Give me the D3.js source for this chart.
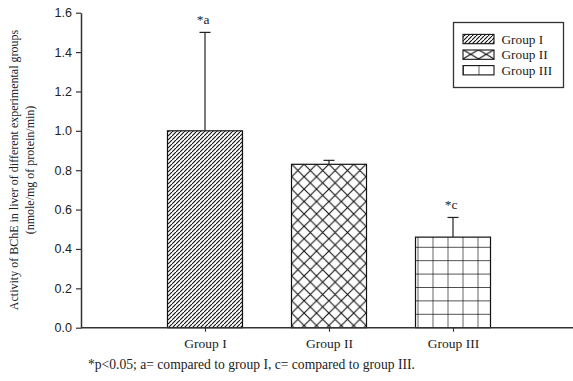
<!DOCTYPE html>
<html>
<head>
<meta charset="utf-8">
<script src="https://cdn.jsdelivr.net/npm/d3@7"></script>
<style>
  html, body { margin: 0; padding: 0; background: #fff; }
  svg { display: block; }
</style>
</head>
<body>
<svg id="chart" width="573" height="381"></svg>
<script>
// BChE activity in liver by experimental group
const groups = ["Group I", "Group II", "Group III"];
const means = [1.0, 0.83, 0.46];
const errors = [0.5, 0.02, 0.10];
const marks = ["*a", "", "*c"];
const patternIds = ["hatch", "cross", "grid"];
const yTicks = [0.0, 0.2, 0.4, 0.6, 0.8, 1.0, 1.2, 1.4, 1.6];

const svg = d3.select("#chart");
const serif = "'Liberation Serif', 'Times New Roman', serif";
const sans = "'Liberation Sans', Arial, sans-serif";
const axisColor = "#333";

const x0 = 81, x1 = 573, yTop = 12.7, yBottom = 327.7;
const y = d3.scaleLinear().domain([0, 1.6]).range([yBottom, yTop]);
const x = d3.scalePoint().domain(groups).range([205, 453]);
const barW = 75;

// Fill patterns
const defs = svg.append("defs");
function hatch(id, size) {
  const p = defs.append("pattern").attr("id", id).attr("patternUnits", "userSpaceOnUse")
    .attr("width", size).attr("height", size);
  p.append("rect").attr("width", size).attr("height", size).attr("fill", "#fff");
  p.append("path").attr("d", `M0,${size} L${size},0 M${-size},${size} L0,0 M${size},${2*size} L${2*size},${size}`)
    .attr("stroke", "#111").attr("stroke-width", 1.1);
}
function cross(id, w, h) {
  const p = defs.append("pattern").attr("id", id).attr("patternUnits", "userSpaceOnUse")
    .attr("width", w).attr("height", h);
  p.append("rect").attr("width", w).attr("height", h).attr("fill", "#fff");
  p.append("path").attr("d", `M0,0 L${w},${h} M${w},0 L0,${h}`)
    .attr("stroke", "#111").attr("stroke-width", 1.1);
}
function grid(id, w, h, horiz) {
  const p = defs.append("pattern").attr("id", id).attr("patternUnits", "userSpaceOnUse")
    .attr("width", w).attr("height", h);
  p.append("rect").attr("width", w).attr("height", h).attr("fill", "#fff");
  p.append("path").attr("d", horiz ? `M0,0 L0,${h} M0,0 L${w},0` : `M0,0 L0,${h}`)
    .attr("stroke", "#111").attr("stroke-width", 1.3);
}
hatch("hatch", 4);
cross("cross", 12.4, 12.4);
grid("grid", 15, 13.4, true);
defs.select("#grid").attr("x", 417.5).attr("y", yBottom - 0.5);
defs.select("#cross").attr("x", 291.7).attr("y", y(means[1]));
hatch("hatchL", 4);
cross("crossL", 15.5, 9.3);
grid("gridL", 15.5, 9.3, false);
defs.select("#gridL").attr("x", 463);
defs.select("#crossL").attr("x", 463).attr("y", 49.7);

// Bars
svg.append("g").selectAll("rect").data(groups).join("rect")
  .attr("x", d => x(d) - barW / 2)
  .attr("y", (d, i) => y(means[i]))
  .attr("width", barW)
  .attr("height", (d, i) => y(0) - y(means[i]))
  .attr("fill", (d, i) => `url(#${patternIds[i]})`)
  .attr("stroke", "#111").attr("stroke-width", 1.2);

// Error bars (upper only)
const eb = svg.append("g").attr("stroke", "#222").attr("stroke-width", 1.2);
groups.forEach((g, i) => {
  const cx = x(g), top = y(means[i] + errors[i]);
  eb.append("line").attr("x1", cx).attr("x2", cx).attr("y1", y(means[i])).attr("y2", top);
  eb.append("line").attr("x1", cx - 5.5).attr("x2", cx + 5.5).attr("y1", top).attr("y2", top);
});

// Significance marks
svg.append("g").selectAll("text").data(groups).join("text")
  .attr("x", d => x(d) - 2)
  .attr("y", (d, i) => y(means[i] + errors[i]) - 8)
  .attr("text-anchor", "middle")
  .attr("font-family", serif).attr("font-size", 13.5).attr("fill", "#222")
  .text((d, i) => marks[i]);

// Y axis
const yAxis = d3.axisLeft(y).tickValues(yTicks).tickFormat(d3.format(".1f")).tickSize(5).tickSizeOuter(0);
const ga = svg.append("g").attr("transform", `translate(${x0},0)`).call(yAxis);
ga.select(".domain").attr("stroke", axisColor).attr("stroke-width", 1.5);
ga.selectAll(".tick line").attr("stroke", axisColor).attr("stroke-width", 1.2);
ga.selectAll(".tick text").attr("font-family", sans).attr("font-size", 12.5).attr("fill", "#222").attr("x", -9);

// X axis
const xAxis = d3.axisBottom(x).tickSize(4).tickSizeOuter(0);
const gx = svg.append("g").attr("transform", `translate(0,${yBottom})`).call(xAxis);
gx.select(".domain").remove();
gx.append("line").attr("x1", x0).attr("x2", x1).attr("y1", 0).attr("y2", 0)
  .attr("stroke", axisColor).attr("stroke-width", 1.5);
gx.selectAll(".tick line").attr("stroke", axisColor).attr("stroke-width", 1.2);
gx.selectAll(".tick text").attr("font-family", serif).attr("font-size", 13.5).attr("fill", "#222")
  .attr("y", 20.5).attr("dy", 0);

// Y axis title
const yt = svg.append("text").attr("transform", `translate(0,170) rotate(-90)`)
  .attr("text-anchor", "middle").attr("font-family", serif).attr("font-size", 12).attr("fill", "#222");
yt.append("tspan").attr("x", 0).attr("y", 18).text("Activity of BChE in liver of different experimental groups");
yt.append("tspan").attr("x", 0).attr("y", 34).text("(nmole/mg of protein/min)");

// Footnote
svg.append("text").attr("x", 88).attr("y", 368.5)
  .attr("font-family", serif).attr("font-size", 13.6).attr("fill", "#222")
  .text("*p<0.05; a= compared to group I, c= compared to group III.");

// Legend
const lg = svg.append("g");
lg.append("rect").attr("x", 453.5).attr("y", 22.5).attr("width", 110).attr("height", 65)
  .attr("fill", "#fff").attr("stroke", "#333").attr("stroke-width", 1.3);
const legendFills = ["hatchL", "crossL", "gridL"];
groups.forEach((g, i) => {
  const cy = 39 + i * 15.6;
  lg.append("rect").attr("x", 463).attr("y", cy - 4.6).attr("width", 31).attr("height", 9.3)
    .attr("fill", `url(#${legendFills[i]})`).attr("stroke", "#111").attr("stroke-width", 1.1);
  lg.append("text").attr("x", 501.5).attr("y", cy + 4.5)
    .attr("font-family", serif).attr("font-size", 13.3).attr("fill", "#222").text(g);
});
</script>
</body>
</html>
